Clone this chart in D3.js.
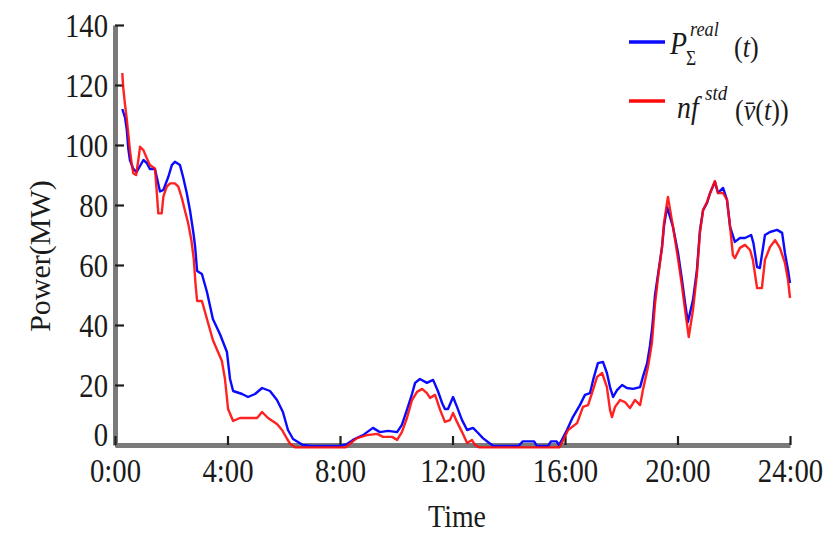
<!DOCTYPE html>
<html>
<head>
<meta charset="utf-8">
<script src="https://cdn.jsdelivr.net/npm/d3@7/dist/d3.min.js"></script>
<style>
  html, body { margin: 0; padding: 0; background: #fff; }
  svg { display: block; }
  text { font-family: "Liberation Serif", "Times New Roman", serif; fill: #1a1a1a; }
</style>
</head>
<body>
<svg id="chart" width="836" height="534"></svg>
<script>
// Aggregated measured power P_Σ^real(t), hours of the day and MW
const realHours = [0.26,0.36,0.42,0.47,0.53,0.65,0.77,0.89,1.01,1.13,1.24,1.42,1.54,1.6,1.72,1.9,2.02,2.13,2.31,2.43,2.55,2.67,2.79,2.85,2.92,3.09,3.27,3.48,3.73,3.98,4.09,4.2,4.52,4.73,4.98,5.23,5.51,5.76,5.97,6.15,6.33,6.68,7.0,7.5,8.0,8.25,8.46,8.82,9.17,9.42,9.71,10.03,10.2,10.38,10.56,10.67,10.84,11.09,11.31,11.48,11.63,11.73,11.84,12.02,12.16,12.34,12.52,12.73,12.91,13.08,13.26,13.45,14.35,14.5,14.9,15.0,15.4,15.5,15.7,15.78,15.89,16.07,16.28,16.53,16.71,16.89,17.0,17.17,17.35,17.49,17.6,17.71,17.85,18.03,18.2,18.42,18.67,18.77,18.92,19.02,19.1,19.2,19.31,19.45,19.52,19.63,19.84,20.02,20.16,20.27,20.37,20.55,20.69,20.8,20.91,21.05,21.16,21.33,21.44,21.62,21.76,21.87,22.04,22.22,22.4,22.62,22.7,22.83,22.93,23.11,23.29,23.54,23.72,23.82,23.93,24.0];
const realMW = [112,109,105,99,95,92,91,93,95,94,92,92,87,84.5,85,89.5,93.3,94.4,93.3,89,84,78,70.5,66,58,57,51,42,37,31,22,18,17,16,17,19,18,15,11,5,2,0,-0.3,-0.3,-0.3,0.3,1.7,3.3,5.7,4.3,4.7,4.3,6.7,11.7,17,20.7,22,20.7,21.7,18,14,12,12,16,12.7,8.3,5,5.7,4,2.3,1,-0.3,-0.3,1.2,1.2,-0.3,-0.3,1.2,1.2,0,1.7,5,9.3,13.3,16.7,17.3,21.7,27.3,27.7,24,19.3,16,18.3,20,19,18.7,19.3,22.7,27.3,33,39,50,57,66,73,79.3,72.7,64,55,47.3,41,48.3,58.3,71.7,78.3,80.7,84,87.7,84,85.7,81.7,72.7,67.7,69,69,70,67.3,59.3,59,70,71,71.7,70.7,64,58.3,54];

// Standard power-curve estimate n f^std(v(t))
const stdHours = [0.26,0.29,0.35,0.41,0.47,0.53,0.59,0.65,0.75,0.83,0.89,1.01,1.13,1.24,1.42,1.48,1.54,1.66,1.72,1.84,1.96,2.13,2.25,2.37,2.49,2.6,2.72,2.8,2.86,2.92,3.09,3.27,3.48,3.8,3.91,4.02,4.2,4.44,4.8,5.05,5.23,5.44,5.76,5.94,6.12,6.22,6.4,8.2,8.36,8.6,8.96,9.32,9.53,9.85,10.03,10.2,10.38,10.56,10.74,10.92,11.09,11.2,11.38,11.56,11.73,11.91,12.02,12.16,12.34,12.52,12.69,12.8,12.95,15.8,15.89,16.11,16.43,16.64,16.82,16.96,17.14,17.32,17.49,17.6,17.67,17.78,17.96,18.13,18.31,18.49,18.67,18.77,18.95,19.09,19.2,19.31,19.45,19.52,19.66,19.84,20.02,20.16,20.27,20.4,20.55,20.69,20.8,20.91,21.05,21.16,21.33,21.44,21.62,21.76,21.87,21.97,22.04,22.22,22.4,22.58,22.68,22.83,23.0,23.11,23.29,23.47,23.64,23.82,23.93,24.0];
const stdMW = [124,119.4,114,109.4,104,98.3,94,90.6,90,95,99.4,98.3,95.6,93.3,92.2,85,77.2,77.2,82.8,86.1,87.2,87.2,86.1,82.5,78,74,68,62,54,48,48,42,35,28,22,12,8,9,9,9,11,9,7,5,2,0.5,-0.8,-0.8,0.5,2.3,3.3,3.7,2.7,2.7,1.7,4.3,9,15,17.7,18.7,17.3,15.7,16.7,11.7,7.7,8.3,10.7,7.7,4.3,0.7,1.7,0,-0.8,-0.8,0.7,5,7.3,12.7,13.3,17.3,22.7,24,19.3,11.7,9.3,12.7,15,14.3,12.3,15,13.3,18.3,26,34,47,56,66,74,82.7,72.7,62,53,45,36,45,57,71,78.3,81,84,88,84,84,81.7,72.7,63.3,62.3,65.7,66.7,65,61.7,52.3,52.3,61.7,66,68.3,65.7,60.7,55,49];

const yTicks = [0, 20, 40, 60, 80, 100, 120, 140];
const xTickHours = [0, 4, 8, 12, 16, 20, 24];
const xTickLabels = ["0:00", "4:00", "8:00", "12:00", "16:00", "20:00", "24:00"];

const svg = d3.select("#chart");
const squeeze = 0.87;   // horizontal squeeze applied to upright text

const x = d3.scaleLinear().domain([0, 24]).range([115, 790]);
const y = d3.scaleLinear().domain([0, 140]).range([445, 25]);

// Axes: inward ticks, thick grey spines
const yAxis = svg.append("g").attr("transform", "translate(115,0)")
  .call(d3.axisLeft(y).tickValues(yTicks).tickSizeInner(-9).tickSizeOuter(0).tickPadding(0).tickFormat(d3.format("d")));
const xAxis = svg.append("g").attr("transform", "translate(0,445)")
  .call(d3.axisBottom(x).tickValues(xTickHours).tickSizeInner(-9).tickSizeOuter(0).tickPadding(0)
    .tickFormat((d, i) => xTickLabels[i]));

[yAxis, xAxis].forEach(g => {
  g.select(".domain").attr("stroke", "#7a7a7a").attr("stroke-width", 5);
  g.selectAll(".tick line").attr("stroke", "#1e1e1e").attr("stroke-width", 2.2);
  g.selectAll(".tick text").attr("fill", "#1a1a1a").style("font-size", "33px")
    .style("font-family", "'Liberation Serif', serif");
});
yAxis.selectAll(".tick text")
  .attr("x", null).attr("dy", null)
  .attr("text-anchor", "end")
  .attr("transform", d => `translate(-7,${d === 0 ? 0 : 11}) scale(${squeeze},1)`);
xAxis.selectAll(".tick text")
  .attr("y", null).attr("dy", null)
  .attr("transform", `translate(0,37) scale(${squeeze},1)`);

// Axis titles
svg.append("text")
  .attr("transform", `translate(457,527) scale(${squeeze},1)`)
  .attr("text-anchor", "middle").style("font-size", "32px").text("Time");
svg.append("text")
  .attr("transform", "translate(50,256) rotate(-90)")
  .attr("text-anchor", "middle").style("font-size", "30px").text("Power(MW)");

// Series lines
const line = d3.line().x(d => x(d[0])).y(d => y(d[1]));
const realPts = d3.zip(realHours, realMW);
const stdPts = d3.zip(stdHours, stdMW);

svg.append("path").datum(realPts).attr("d", line)
  .attr("fill", "none").attr("stroke", "#0a0aff").attr("stroke-width", 2.4)
  .attr("stroke-linejoin", "round");
svg.append("path").datum(stdPts).attr("d", line)
  .attr("fill", "none").attr("stroke", "#ff0a0a").attr("stroke-width", 2.4)
  .attr("stroke-opacity", 0.9).attr("stroke-linejoin", "round");

// Legend
const legend = svg.append("g");
legend.append("line").attr("x1", 629).attr("x2", 665).attr("y1", 42).attr("y2", 42)
  .attr("stroke", "#0a0aff").attr("stroke-width", 3.5);
legend.append("line").attr("x1", 629).attr("x2", 665).attr("y1", 101).attr("y2", 101)
  .attr("stroke", "#ff0a0a").attr("stroke-width", 3.5);

function put(xp, yp, size, content, italic) {
  return legend.append("text")
    .attr("transform", `translate(${xp},${yp}) scale(${squeeze},1)`)
    .style("font-size", size + "px")
    .style("font-style", italic ? "italic" : "normal")
    .text(content);
}
put(670, 54, 32, "P", true);
put(690, 36, 21, "real", true);
put(686, 65, 20, "\u03A3", false);
const t1 = put(734, 57, 30, "(", false);
t1.append("tspan").style("font-style", "italic").text("t");
t1.append("tspan").text(")");

put(677, 118, 32, "nf", true);
put(705, 100, 22, "std", true);
const t2 = put(735, 120, 30, "(", false);
t2.append("tspan").style("font-style", "italic").text("v\u0304");
t2.append("tspan").text("(");
t2.append("tspan").style("font-style", "italic").text("t");
t2.append("tspan").text("))");
</script>
</body>
</html>
